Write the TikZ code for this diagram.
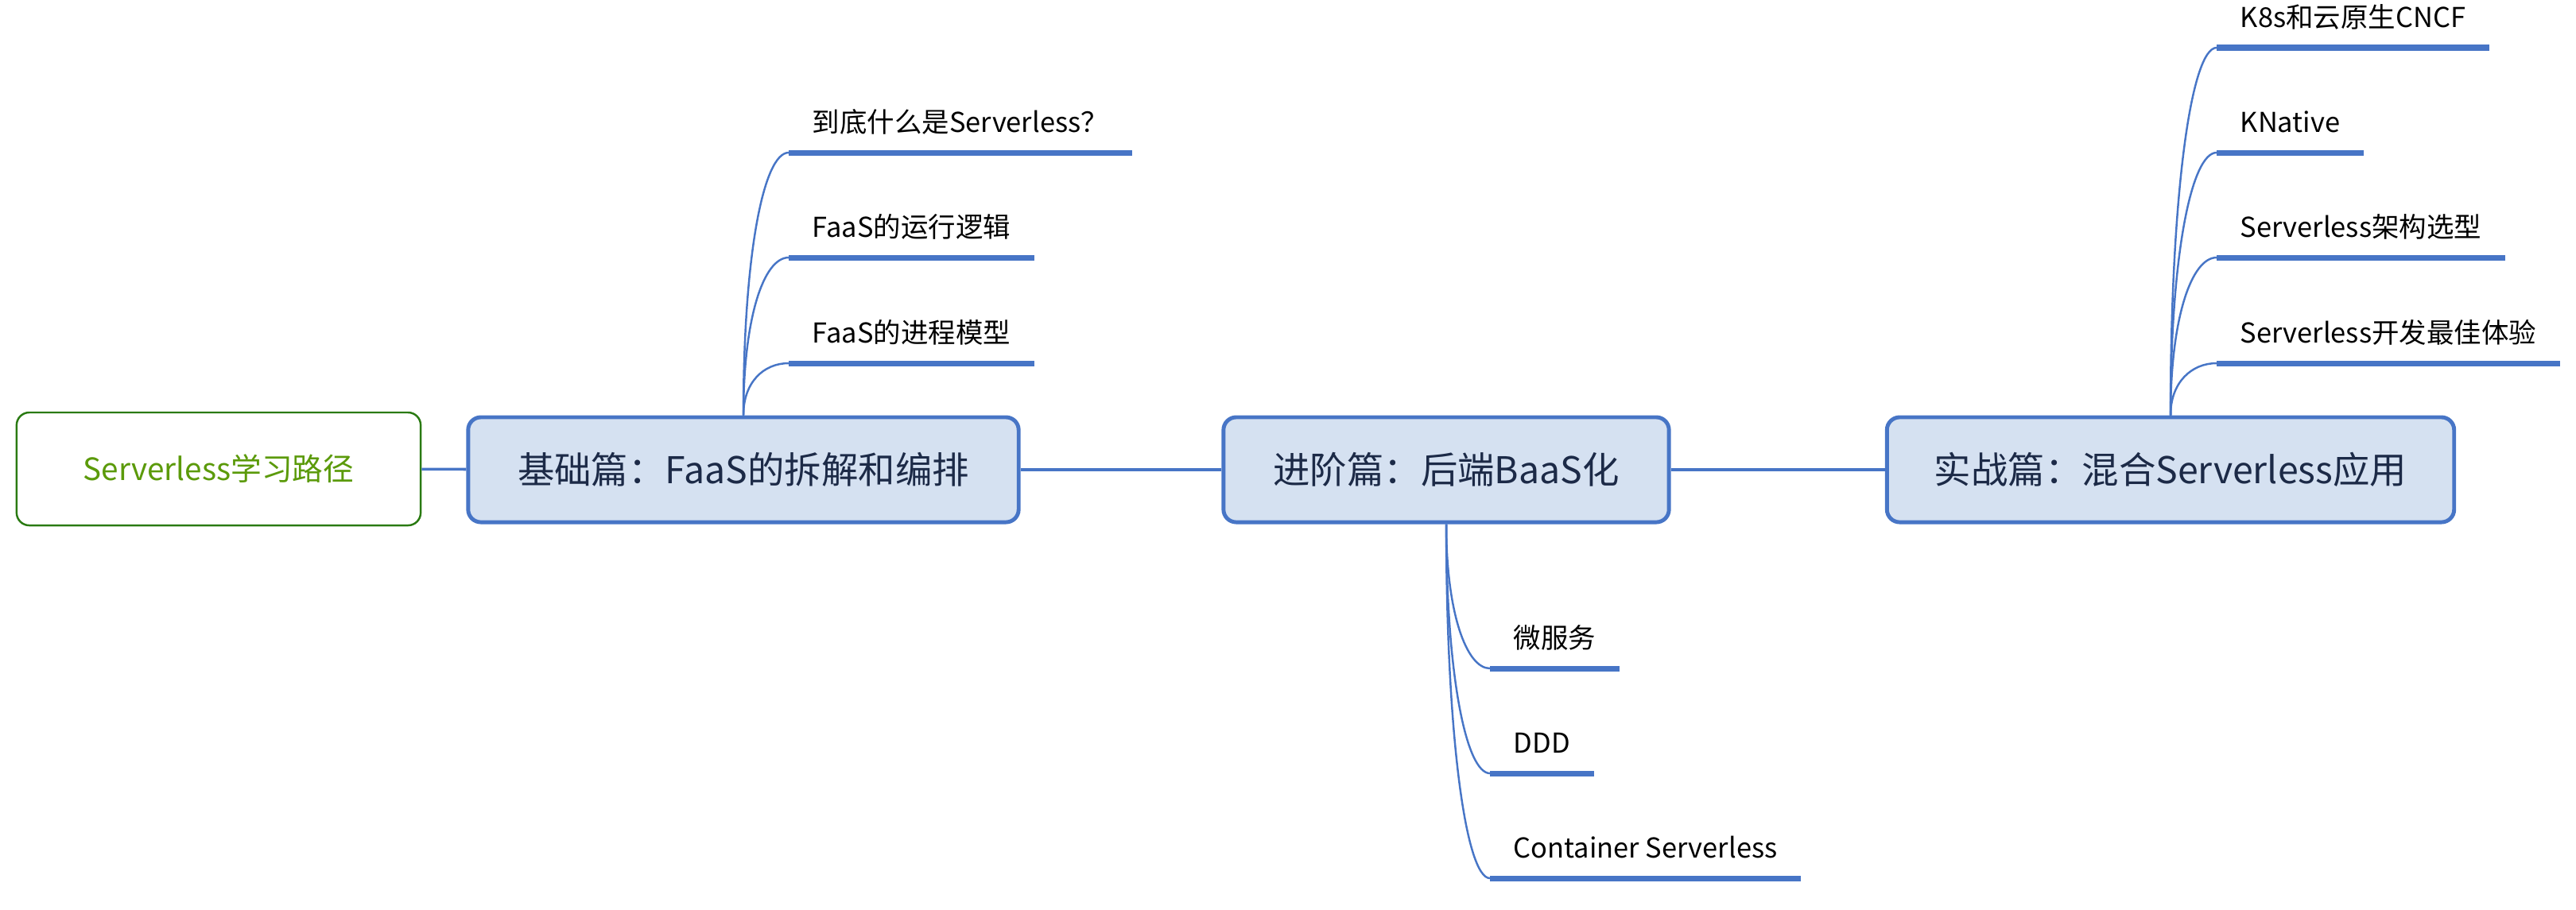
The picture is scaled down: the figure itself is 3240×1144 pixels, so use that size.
\documentclass[tikz,border=0pt]{standalone}
\usepackage{fontspec}
\setmainfont{Noto Sans CJK SC}
\usepackage{tikz}
\definecolor{lineblue}{HTML}{4775C6}
\definecolor{partfill}{HTML}{D5E1F1}
\definecolor{parttext}{HTML}{1C2A47}
\definecolor{rootline}{HTML}{2A7A12}
\definecolor{roottext}{HTML}{5B9A0A}

\begin{document}
\begin{tikzpicture}[x=0.01cm,y=-0.01cm]
\tikzstyle{rootbox}=[rectangle,draw=rootline,line width=0.7pt,rounded corners=0.16cm,fill=white,text=roottext,minimum width=5.08cm,minimum height=1.42cm,font=\fontsize{11}{13}\selectfont]
\tikzstyle{part}=[rectangle,draw=lineblue,line width=1.4pt,rounded corners=0.16cm,fill=partfill,text=parttext,minimum height=1.32cm,font=\fontsize{13.2}{16}\selectfont]
\tikzstyle{leaf}=[anchor=south west,inner xsep=0.29cm,inner ysep=0.25cm,text height=0.28cm,text depth=0cm,font=\fontsize{9.8}{12}\selectfont]
\tikzstyle{uline}=[lineblue,line width=2pt]
\tikzstyle{link}=[lineblue,line width=0.7pt]
\useasboundingbox (0,0) rectangle (3240,1144);
% main line
\node[rootbox] (root) at (275,590) {Serverless学习路径};
\node[part,minimum width=6.92cm] (basic) at (935,591) {基础篇：FaaS的拆解和编排};
\node[part,minimum width=5.60cm] (advanced) at (1819,591) {进阶篇：后端BaaS化};
\node[part,minimum width=7.13cm] (practice) at (2730,591) {实战篇：混合Serverless应用};
\draw[link,line width=1pt] (root) -- (basic);
\draw[link,line width=1pt] (basic) -- (advanced);
\draw[link,line width=1pt] (advanced) -- (practice);
% basic
\node[leaf] (whatis) at (992,192) {到底什么是Serverless？};
\node[leaf] (runlogic) at (992,324) {FaaS的运行逻辑};
\node[leaf] (procmodel) at (992,457) {FaaS的进程模型};
\draw[uline] (whatis.south west) -- (whatis.south east);
\draw[uline] (runlogic.south west) -- (runlogic.south east);
\draw[uline] (procmodel.south west) -- (procmodel.south east);
\draw[link] (basic.north) .. controls +(0,-200) and +(-32,0) .. (whatis.south west);
\draw[link] (basic.north) .. controls +(0,-121) and +(-32,0) .. (runlogic.south west);
\draw[link] (basic.north) .. controls +(0,-41) and +(-32,0) .. (procmodel.south west);
% advanced
\node[leaf] (micro) at (1874,841) {微服务};
\node[leaf] (ddd) at (1874,973) {DDD};
\node[leaf] (container) at (1874,1105) {Container Serverless};
\draw[uline] (micro.south west) -- (micro.south east);
\draw[uline] (ddd.south west) -- (ddd.south east);
\draw[uline] (container.south west) -- (container.south east);
\draw[link] (advanced.south) .. controls +(0,110) and +(-30,0) .. (micro.south west);
\draw[link] (advanced.south) .. controls +(0,190) and +(-30,0) .. (ddd.south west);
\draw[link] (advanced.south) .. controls +(0,269) and +(-30,0) .. (container.south west);
% practice
\node[leaf] (k8s) at (2788,60) {K8s和云原生CNCF};
\node[leaf] (knative) at (2788,192) {KNative};
\node[leaf] (archsel) at (2788,324) {Serverless架构选型};
\node[leaf] (devexp) at (2788,457) {Serverless开发最佳体验};
\draw[uline] (k8s.south west) -- (k8s.south east);
\draw[uline] (knative.south west) -- (knative.south east);
\draw[uline] (archsel.south west) -- (archsel.south east);
\draw[uline] (devexp.south west) -- (devexp.south east);
\draw[link] (practice.north) .. controls +(0,-279) and +(-32,0) .. (k8s.south west);
\draw[link] (practice.north) .. controls +(0,-200) and +(-32,0) .. (knative.south west);
\draw[link] (practice.north) .. controls +(0,-121) and +(-32,0) .. (archsel.south west);
\draw[link] (practice.north) .. controls +(0,-41) and +(-32,0) .. (devexp.south west);
\end{tikzpicture}
\end{document}
